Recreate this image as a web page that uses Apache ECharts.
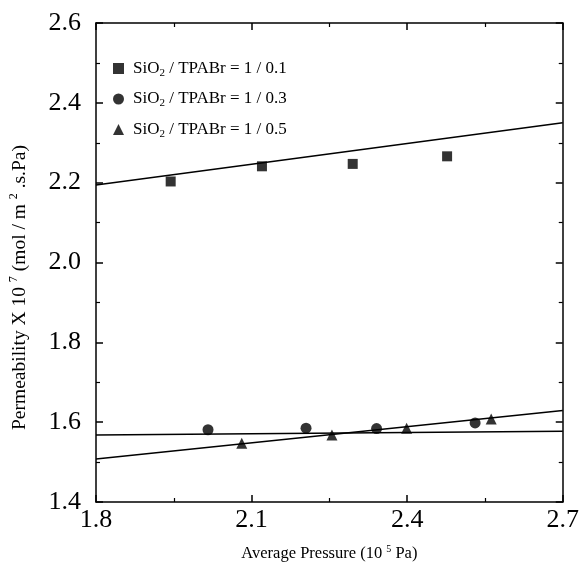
<!DOCTYPE html>
<html><head><meta charset="utf-8">
<script src="https://cdn.jsdelivr.net/npm/echarts@6/dist/echarts.min.js"></script>
<style>html,body{margin:0;padding:0;background:#fff}#c{width:582px;height:573px}</style>
</head><body><div id="c"></div>
<script>
// Data
var seriesNames = ['SiO{sub|2} / TPABr = 1 / 0.1', 'SiO{sub|2} / TPABr = 1 / 0.3', 'SiO{sub|2} / TPABr = 1 / 0.5'];
var sq_x = [1.944, 2.120, 2.295, 2.477];
var sq_y = [2.203, 2.241, 2.247, 2.266];
var ci_x = [2.016, 2.205, 2.341, 2.531];
var ci_y = [1.581, 1.585, 1.584, 1.598];
var tr_x = [2.081, 2.255, 2.399, 2.562];
var tr_y = [1.547, 1.568, 1.585, 1.608];
// fitted lines endpoints
var fit_x = [1.8, 2.7];
var fit_sq = [2.194, 2.350];
var fit_ci = [1.568, 1.577];
var fit_tr = [1.508, 1.629];
var xTicks = [1.8, 2.1, 2.4, 2.7];
var yTicks = [1.4, 1.6, 1.8, 2.0, 2.2, 2.4, 2.6];

function pairs(xs, ys){ return xs.map(function(x,i){return [x, ys[i]];}); }

var chart = echarts.init(document.getElementById('c'));
var font = 'Liberation Serif';
var axisBase = {
  axisLine:{show:true,lineStyle:{color:'#000',width:1.5}},
  axisTick:{show:true,inside:true,length:7,lineStyle:{color:'#000',width:1.5}},
  minorTick:{show:true,splitNumber:2,length:4,lineStyle:{color:'#000',width:1.2}},
  splitLine:{show:false}
};
function ax(o){ return Object.assign({}, JSON.parse(JSON.stringify(axisBase)), o); }

chart.setOption({
  backgroundColor:'#fff',
  animation:false,
  grid:{left:96,right:18,top:23,bottom:71,containLabel:false},
  legend:{
    show:true, orient:'vertical', left:108, top:55, itemGap:12,
    itemWidth:11, itemHeight:11,
    data:[{name:seriesNames[0],icon:'rect'},{name:seriesNames[1],icon:'circle'},{name:seriesNames[2],icon:'triangle'}],
    textStyle:{fontFamily:font,fontSize:17,color:'#000',padding:[0,0,0,4],
      rich:{sub:{fontFamily:font,fontSize:11,color:'#000',verticalAlign:'bottom',padding:[9,0,0,0]}}},
    formatter:function(n){return n;}
  },
  xAxis:[
    ax({type:'value',min:1.8,max:2.7,interval:0.3,position:'bottom',
      name:'Average Pressure (10 {sup|5} Pa)',nameLocation:'middle',nameGap:42,
      nameTextStyle:{fontFamily:font,fontSize:16.5,color:'#000',
        rich:{sup:{fontFamily:font,fontSize:10,color:'#000',verticalAlign:'top',padding:[0,0,9,0]}}},
      axisLabel:{fontFamily:font,fontSize:26,color:'#000',margin:5,
        formatter:function(v){return xTicks.indexOf(Math.round(v*10)/10)>=0? v.toFixed(1):'';}}}),
    ax({type:'value',min:1.8,max:2.7,interval:0.3,position:'top',axisLabel:{show:false}})
  ],
  yAxis:[
    ax({type:'value',min:1.4,max:2.6,interval:0.2,position:'left',
      name:'Permeability X 10 {sup|7} (mol / m {sup|2} .s.Pa)',nameLocation:'middle',nameGap:65,nameRotate:90,
      nameTextStyle:{fontFamily:font,fontSize:19.5,color:'#000',padding:[0,50,0,0],
        rich:{sup:{fontFamily:font,fontSize:12,color:'#000',verticalAlign:'top',padding:[0,0,11,0]}}},
      axisLabel:{fontFamily:font,fontSize:26,color:'#000',margin:15,
        formatter:function(v){return yTicks.indexOf(Math.round(v*10)/10)>=0? v.toFixed(1):'';}}}),
    ax({type:'value',min:1.4,max:2.6,interval:0.2,position:'right',axisLabel:{show:false}})
  ],
  series:[
    {name:seriesNames[0],type:'scatter',symbol:'rect',symbolSize:10,itemStyle:{color:'#000'},data:pairs(sq_x,sq_y),z:5},
    {name:seriesNames[1],type:'scatter',symbol:'circle',symbolSize:11,itemStyle:{color:'#000'},data:pairs(ci_x,ci_y),z:5},
    {name:seriesNames[2],type:'scatter',symbol:'triangle',symbolSize:11,itemStyle:{color:'#000'},data:pairs(tr_x,tr_y),z:5},
    {name:'fit1',type:'line',showSymbol:false,symbol:'none',lineStyle:{color:'#000',width:1.5},data:pairs(fit_x,fit_sq)},
    {name:'fit2',type:'line',showSymbol:false,symbol:'none',lineStyle:{color:'#000',width:1.5},data:pairs(fit_x,fit_ci)},
    {name:'fit3',type:'line',showSymbol:false,symbol:'none',lineStyle:{color:'#000',width:1.5},data:pairs(fit_x,fit_tr)}
  ]
});
</script></body></html>
